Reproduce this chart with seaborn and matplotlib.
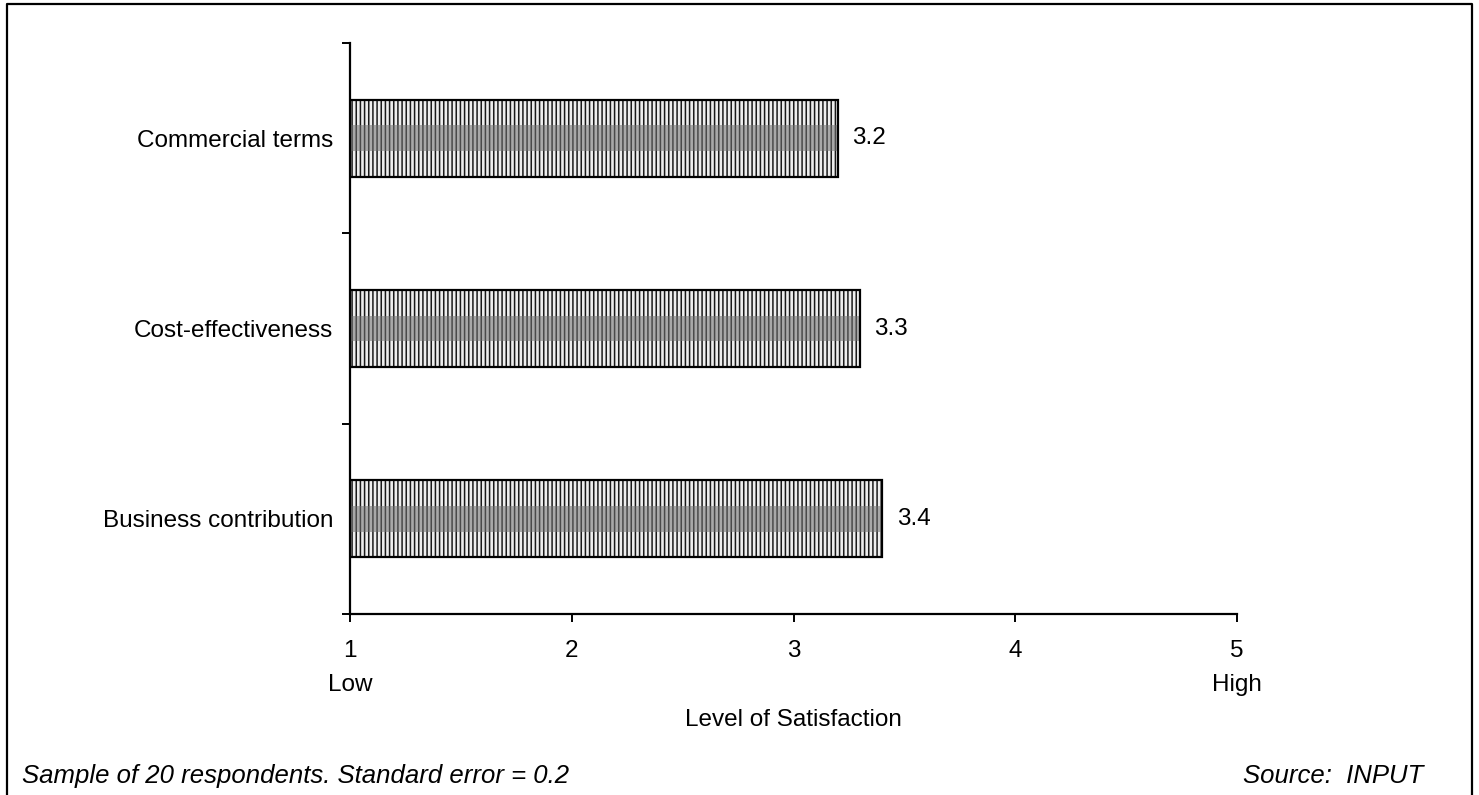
import matplotlib
matplotlib.use("Agg")
import matplotlib.pyplot as plt
import seaborn as sns
import pandas as pd
from matplotlib.lines import Line2D

# Mean satisfaction scores by aspect
categories = ["Commercial terms", "Cost-effectiveness", "Business contribution"]
scores = [3.2, 3.3, 3.4]
tick_values = [1, 2, 3, 4, 5]
tick_labels = ["1\nLow", "2", "3", "4", "5\nHigh"]
x_title = "Level of Satisfaction"
note_left = "Sample of 20 respondents. Standard error = 0.2"
note_right = "Source:  INPUT"

sns.set_theme(style="white")
plt.rcParams["font.family"] = ["Liberation Sans", "DejaVu Sans"]
plt.rcParams["hatch.linewidth"] = 1.1
plt.rcParams["text.color"] = "black"
plt.rcParams["axes.labelcolor"] = "black"
plt.rcParams["xtick.color"] = "black"
plt.rcParams["ytick.color"] = "black"

df = pd.DataFrame({"aspect": categories, "score": scores})

fig = plt.figure(figsize=(14.79, 7.95), dpi=100)
fig.patch.set_facecolor("white")
ax = fig.add_axes([350 / 1479, 1 - 614 / 795, 887 / 1479, 571 / 795])

FS = 17.5
FS_NOTE = 18.5

# hatched body of each bar (hatch lines take the edge colour)
sns.barplot(data=df, x="score", y="aspect", orient="h", width=0.405,
            color="#eeeeee", saturation=1, hatch="||||", linewidth=0,
            edgecolor="#1a1a1a", ax=ax)
# darker central band
sns.barplot(data=df, x="score", y="aspect", orient="h", width=0.135,
            color="#a8a8a8", saturation=1, hatch="||||", linewidth=0,
            edgecolor="#4a4a4a", ax=ax)
# outline
sns.barplot(data=df, x="score", y="aspect", orient="h", width=0.405,
            fill=False, edgecolor="black", linewidth=1.6, ax=ax)

for i, v in enumerate(scores):
    ax.text(v + 0.065, i, f"{v:.1f}", va="center", ha="left", fontsize=FS,
            color="black")

ax.set_xlim(1, 5)
ax.set_ylim(2.5, -0.5)
ax.set_xticks(tick_values)
ax.set_xticklabels(tick_labels, fontsize=FS, linespacing=1.7)
ax.set_yticks([-0.5, 0.5, 1.5, 2.5], minor=False)
ax.set_yticklabels([])
ax.set_yticks([0, 1, 2], minor=True)
ax.set_yticklabels(categories, minor=True, fontsize=FS)
ax.tick_params(axis="y", which="minor", length=0, pad=12)
ax.tick_params(axis="y", which="major", length=5.5, width=1.4,
               direction="out", color="black", left=True)
ax.tick_params(axis="x", length=5.5, width=1.4, direction="out",
               color="black", bottom=True, pad=13)
ax.set_xlabel(x_title, fontsize=FS, labelpad=9.5)
ax.set_ylabel("")

for side in ["top", "right"]:
    ax.spines[side].set_visible(False)
for side in ["left", "bottom"]:
    ax.spines[side].set_color("black")
    ax.spines[side].set_linewidth(1.6)
ax.grid(False)
ax.set_facecolor("white")

# open frame around the exhibit
W, H = 1479, 795
fx0, fx1, fy1 = 7 / W, 1472 / W, 1 - 4 / H
fig.add_artist(Line2D([fx0, fx0, fx1, fx1], [0, fy1, fy1, 0],
                      transform=fig.transFigure, color="black", lw=1.6))

fig.text(22 / W, 1 - 776 / H, note_left, fontsize=FS_NOTE, style="italic",
         ha="left", va="center")
fig.text(1423 / W, 1 - 776 / H, note_right, fontsize=FS_NOTE, style="italic",
         ha="right", va="center")

fig.savefig("out.png", dpi=100, facecolor="white")
